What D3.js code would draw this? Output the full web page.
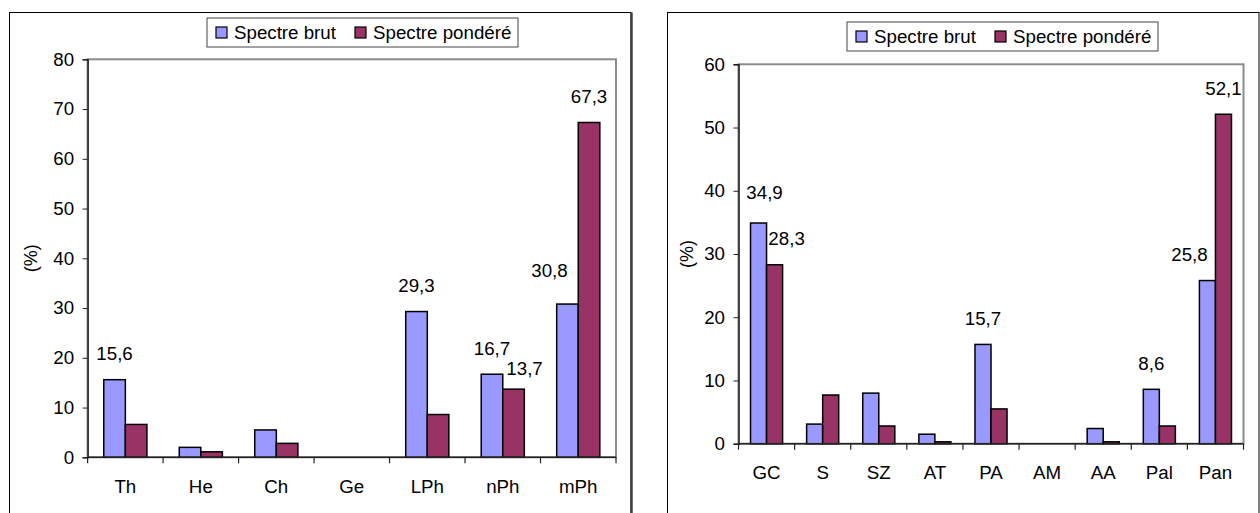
<!DOCTYPE html>
<meta charset="utf-8">
<style>
  body { margin: 0; background: #fff; }
  text { font-family: 'Liberation Sans', Arial, sans-serif; font-size: 18px; fill: #000; }
</style>
<body>
<svg id="chart" width="1260" height="513"></svg>
<script src="https://cdn.jsdelivr.net/npm/d3@7"></script>
<script>
// --- data ---
const seriesNames = ["Spectre brut", "Spectre pondéré"];

const typesCats = ["Th", "He", "Ch", "Ge", "LPh", "nPh", "mPh"];
const typesBrut = [15.6, 2.0, 5.5, 0, 29.3, 16.7, 30.8];
const typesPond = [6.6, 1.1, 2.8, 0, 8.6, 13.7, 67.3];
const typesLabelBrut = ["Th", "LPh", "nPh", "mPh"];
const typesLabelPond = ["nPh", "mPh"];
const typesTicks = [0, 10, 20, 30, 40, 50, 60, 70, 80];

const chorCats = ["GC", "S", "SZ", "AT", "PA", "AM", "AA", "Pal", "Pan"];
const chorBrut = [34.9, 3.1, 8.0, 1.5, 15.7, 0, 2.4, 8.6, 25.8];
const chorPond = [28.3, 7.7, 2.8, 0.3, 5.5, 0, 0.3, 2.8, 52.1];
const chorLabelBrut = ["GC", "PA", "Pal", "Pan"];
const chorLabelPond = ["GC", "Pan"];
const chorTicks = [0, 10, 20, 30, 40, 50, 60];

const colors = ["#9999ff", "#993366"];
const sx = 1.04; // picture is a bit wider than tall

const fr = d3.formatLocale({decimal: ",", thousands: " ", grouping: [3], currency: ["", ""]}).format(".1f");

const svg = d3.select("#chart");

// manual label shifts, like in the original sheet
const nudge = {
  "A-nPh-1": [11, 6], "A-mPh-0": [-18, -7],
  "B-GC-0": [6, -4], "B-GC-1": [12, 0], "B-Pan-0": [-18, 0]
};

function wideText(parent, x, y, str, anchor) {
  return parent.append("text")
    .attr("transform", `translate(${x},${y}) scale(${sx},1)`)
    .attr("text-anchor", anchor || "middle")
    .attr("dy", "0.35em")
    .text(str);
}

function drawChart(cfg) {
  const g = svg.append("g");

  // outer frame
  g.append("rect")
    .attr("x", cfg.frame[0]).attr("y", cfg.frame[1])
    .attr("width", cfg.frame[2] - cfg.frame[0]).attr("height", 560)
    .attr("fill", "none").attr("stroke", "#000").attr("stroke-width", 1);
  if (cfg.shadow)
    g.append("line")
      .attr("x1", cfg.frame[2] + 0.5).attr("x2", cfg.frame[2] + 0.5)
      .attr("y1", cfg.frame[1]).attr("y2", 513)
      .attr("stroke", "#404040").attr("stroke-width", 2.5);

  const x = d3.scaleBand().domain(cfg.cats).range([cfg.left, cfg.right]);
  const xs = d3.scaleBand().domain([0, 1]).range([0, x.bandwidth()]).paddingInner(0).paddingOuter(0.75);
  const y = d3.scaleLinear().domain([0, d3.max(cfg.ticks)]).range([cfg.bottom, cfg.top]);

  // plot area border (grey)
  g.append("rect")
    .attr("x", cfg.left).attr("y", cfg.top)
    .attr("width", cfg.right - cfg.left).attr("height", cfg.bottom - cfg.top)
    .attr("fill", "none").attr("stroke", "#8c8c8c").attr("stroke-width", 2);

  // y axis
  const ya = g.append("g")
    .attr("transform", `translate(${cfg.left},0)`)
    .call(d3.axisLeft(y).tickValues(cfg.ticks).tickSize(5).tickPadding(8).tickFormat(d3.format("d")));
  ya.select(".domain").attr("stroke", "#222").attr("stroke-width", 1.5);
  ya.selectAll(".tick line").attr("stroke", "#222");
  ya.selectAll(".tick text").attr("transform", `scale(${sx},1)`);
  ya.attr("font-size", null).attr("font-family", null);

  // bars
  const rows = cfg.cats.map((c, i) => ({cat: c, vals: [cfg.brut[i], cfg.pond[i]]}));
  const grp = g.append("g").selectAll("g").data(rows).join("g")
    .attr("transform", d => `translate(${x(d.cat)},0)`);
  grp.selectAll("rect")
    .data(d => d.vals.map((v, k) => ({k, v})).filter(e => e.v > 0))
    .join("rect")
    .attr("x", e => xs(e.k))
    .attr("width", xs.bandwidth())
    .attr("y", e => y(e.v))
    .attr("height", e => y(0) - y(e.v))
    .attr("fill", e => colors[e.k])
    .attr("stroke", "#000").attr("stroke-width", 1.5);

  // x axis line and category ticks between groups
  g.append("line")
    .attr("x1", cfg.left).attr("x2", cfg.right)
    .attr("y1", cfg.bottom).attr("y2", cfg.bottom)
    .attr("stroke", "#222").attr("stroke-width", 1.5);
  g.append("g").selectAll("line")
    .data(cfg.cats.map(c => x(c)).concat([cfg.right]))
    .join("line")
    .attr("x1", d => d).attr("x2", d => d)
    .attr("y1", cfg.bottom).attr("y2", cfg.bottom + 6)
    .attr("stroke", "#222").attr("stroke-width", 1.2);
  const xa = g.append("g").attr("transform", `translate(0,${cfg.bottom})`)
    .call(d3.axisBottom(x).tickSize(0).tickPadding(cfg.catPad));
  xa.select(".domain").remove();
  xa.attr("font-size", null).attr("font-family", null);
  xa.selectAll(".tick text").attr("transform", `scale(${sx},1)`);

  // data labels
  const lab = g.append("g");
  [cfg.labBrut, cfg.labPond].forEach((list, k) => {
    list.forEach(c => {
      const i = cfg.cats.indexOf(c);
      const v = k === 0 ? cfg.brut[i] : cfg.pond[i];
      const n = nudge[`${cfg.id}-${c}-${k}`] || [0, 0];
      wideText(lab, x(c) + xs(k) + xs.bandwidth() / 2 + n[0], y(v) - 26 + n[1], fr(v));
    });
  });

  // y title
  g.append("text")
    .attr("transform", `translate(${cfg.titleX},${(cfg.top + cfg.bottom) / 2}) rotate(-90) scale(1,${sx})`)
    .attr("text-anchor", "middle").attr("dy", "0.35em")
    .text("(%)");

  // legend
  const lg = g.append("g").attr("transform", `translate(${cfg.legend[0]},${cfg.legend[1]})`);
  lg.append("rect").attr("width", 311).attr("height", 29)
    .attr("fill", "#fff").attr("stroke", "#444").attr("stroke-width", 1);
  seriesNames.forEach((s, k) => {
    const ox = k === 0 ? 9 : 148;
    lg.append("rect").attr("x", ox).attr("y", 9).attr("width", 11).attr("height", 11)
      .attr("fill", colors[k]).attr("stroke", "#000").attr("stroke-width", 1.2);
    wideText(lg, ox + 18, 15, s, "start");
  });
}

drawChart({
  id: "A", cats: typesCats, brut: typesBrut, pond: typesPond,
  labBrut: typesLabelBrut, labPond: typesLabelPond, ticks: typesTicks,
  frame: [9.5, 12.5, 631], shadow: true,
  left: 87.6, right: 616, top: 59.3, bottom: 457.3, catPad: 23,
  titleX: 30, legend: [207, 18]
});

drawChart({
  id: "B", cats: chorCats, brut: chorBrut, pond: chorPond,
  labBrut: chorLabelBrut, labPond: chorLabelPond, ticks: chorTicks,
  frame: [667.5, 12.5, 1259], shadow: false,
  left: 738.5, right: 1243.5, top: 64.3, bottom: 443.7, catPad: 23,
  titleX: 686, legend: [847, 22]
});
</script>
</body>
